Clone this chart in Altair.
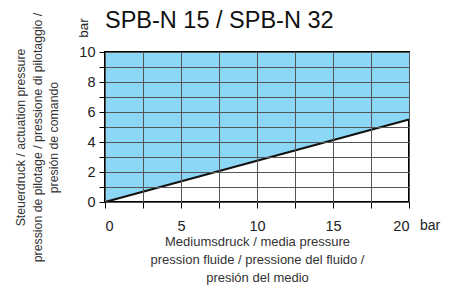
import altair as alt
import pandas as pd

media = [0, 20]
actuation = [0, 5.5]
top_val = [10, 10]
x_ticks = [0, 2.5, 5, 7.5, 10, 12.5, 15, 17.5, 20]
y_ticks = [0, 1, 2, 3, 4, 5, 6, 7, 8, 9, 10]

df = pd.DataFrame({"x": media, "y": actuation, "top": top_val})

W, H = 304, 150
FONT = "Liberation Sans"

xs = alt.Scale(domain=[0, 20], nice=False, zero=False)
ys = alt.Scale(domain=[0, 10], nice=False, zero=False)

xaxis = alt.Axis(
    values=x_ticks, labelExpr="datum.value % 5 == 0 ? datum.label : ''",
    labelOverlap=False,
    grid=True, gridColor="#555", gridWidth=1, tickColor="#000", tickSize=6,
    domain=False, labelFontSize=14.5, labelColor="#222", labelFont=FONT, labelPadding=11,
    title=["Mediumsdruck / media pressure", "pression fluide / pressione del fluido /", "presión del medio"],
    titleFont=FONT, titleFontSize=13, titleFontWeight="normal", titleColor="#333",
    titlePadding=3, titleLineHeight=18, zindex=1,
)
yaxis = alt.Axis(
    values=y_ticks, labelExpr="datum.value % 2 == 0 ? datum.label : ''",
    labelOverlap=False,
    grid=True, gridColor="#555", gridWidth=1, tickColor="#000", tickSize=6,
    domain=False, labelFontSize=14.5, labelColor="#222", labelFont=FONT, labelPadding=4,
    title=["Steuerdruck / actuation pressure", "pression de pilotage / pressione di pilotaggio /", "presión de comando"],
    titleFont=FONT, titleFontSize=12.3, titleFontWeight="normal", titleColor="#333",
    titlePadding=18, titleLineHeight=16.5, titleY=85, zindex=1,
)

base = alt.Chart(df)
area = base.mark_area(color="#8CD7F5", opacity=1).encode(
    x=alt.X("x:Q", scale=xs, axis=xaxis),
    y=alt.Y("y:Q", scale=ys, axis=yaxis),
    y2="top:Q",
)
line = base.mark_line(color="#111", strokeWidth=2.2).encode(
    x=alt.X("x:Q", scale=xs, axis=xaxis), y=alt.Y("y:Q", scale=ys, axis=yaxis)
)
title = alt.Chart(pd.DataFrame({"t": ["SPB-N 15 / SPB-N 32"]})).mark_text(
    font=FONT, fontSize=23.5, color="#111", align="left", baseline="alphabetic"
).encode(text="t:N", x=alt.value(0), y=alt.value(-24))
ybar = alt.Chart(pd.DataFrame({"t": ["bar"]})).mark_text(
    angle=270, font=FONT, fontSize=13.5, color="#222", align="center", baseline="middle"
).encode(text="t:N", x=alt.value(-21), y=alt.value(-24))
xbar = alt.Chart(pd.DataFrame({"t": ["bar"]})).mark_text(
    font=FONT, fontSize=14, color="#222", align="left", baseline="middle"
).encode(text="t:N", x=alt.value(W + 11), y=alt.value(H + 24))

chart = alt.layer(area, line, title, ybar, xbar).properties(
    width=W, height=H,
    autosize=alt.AutoSizeParams(type="none"),
    padding={"left": 97, "top": 44, "right": 32, "bottom": 85},
).configure_view(stroke="#000", strokeWidth=2)

chart.save("out.html", embed_options={"renderer": "svg", "actions": False})
